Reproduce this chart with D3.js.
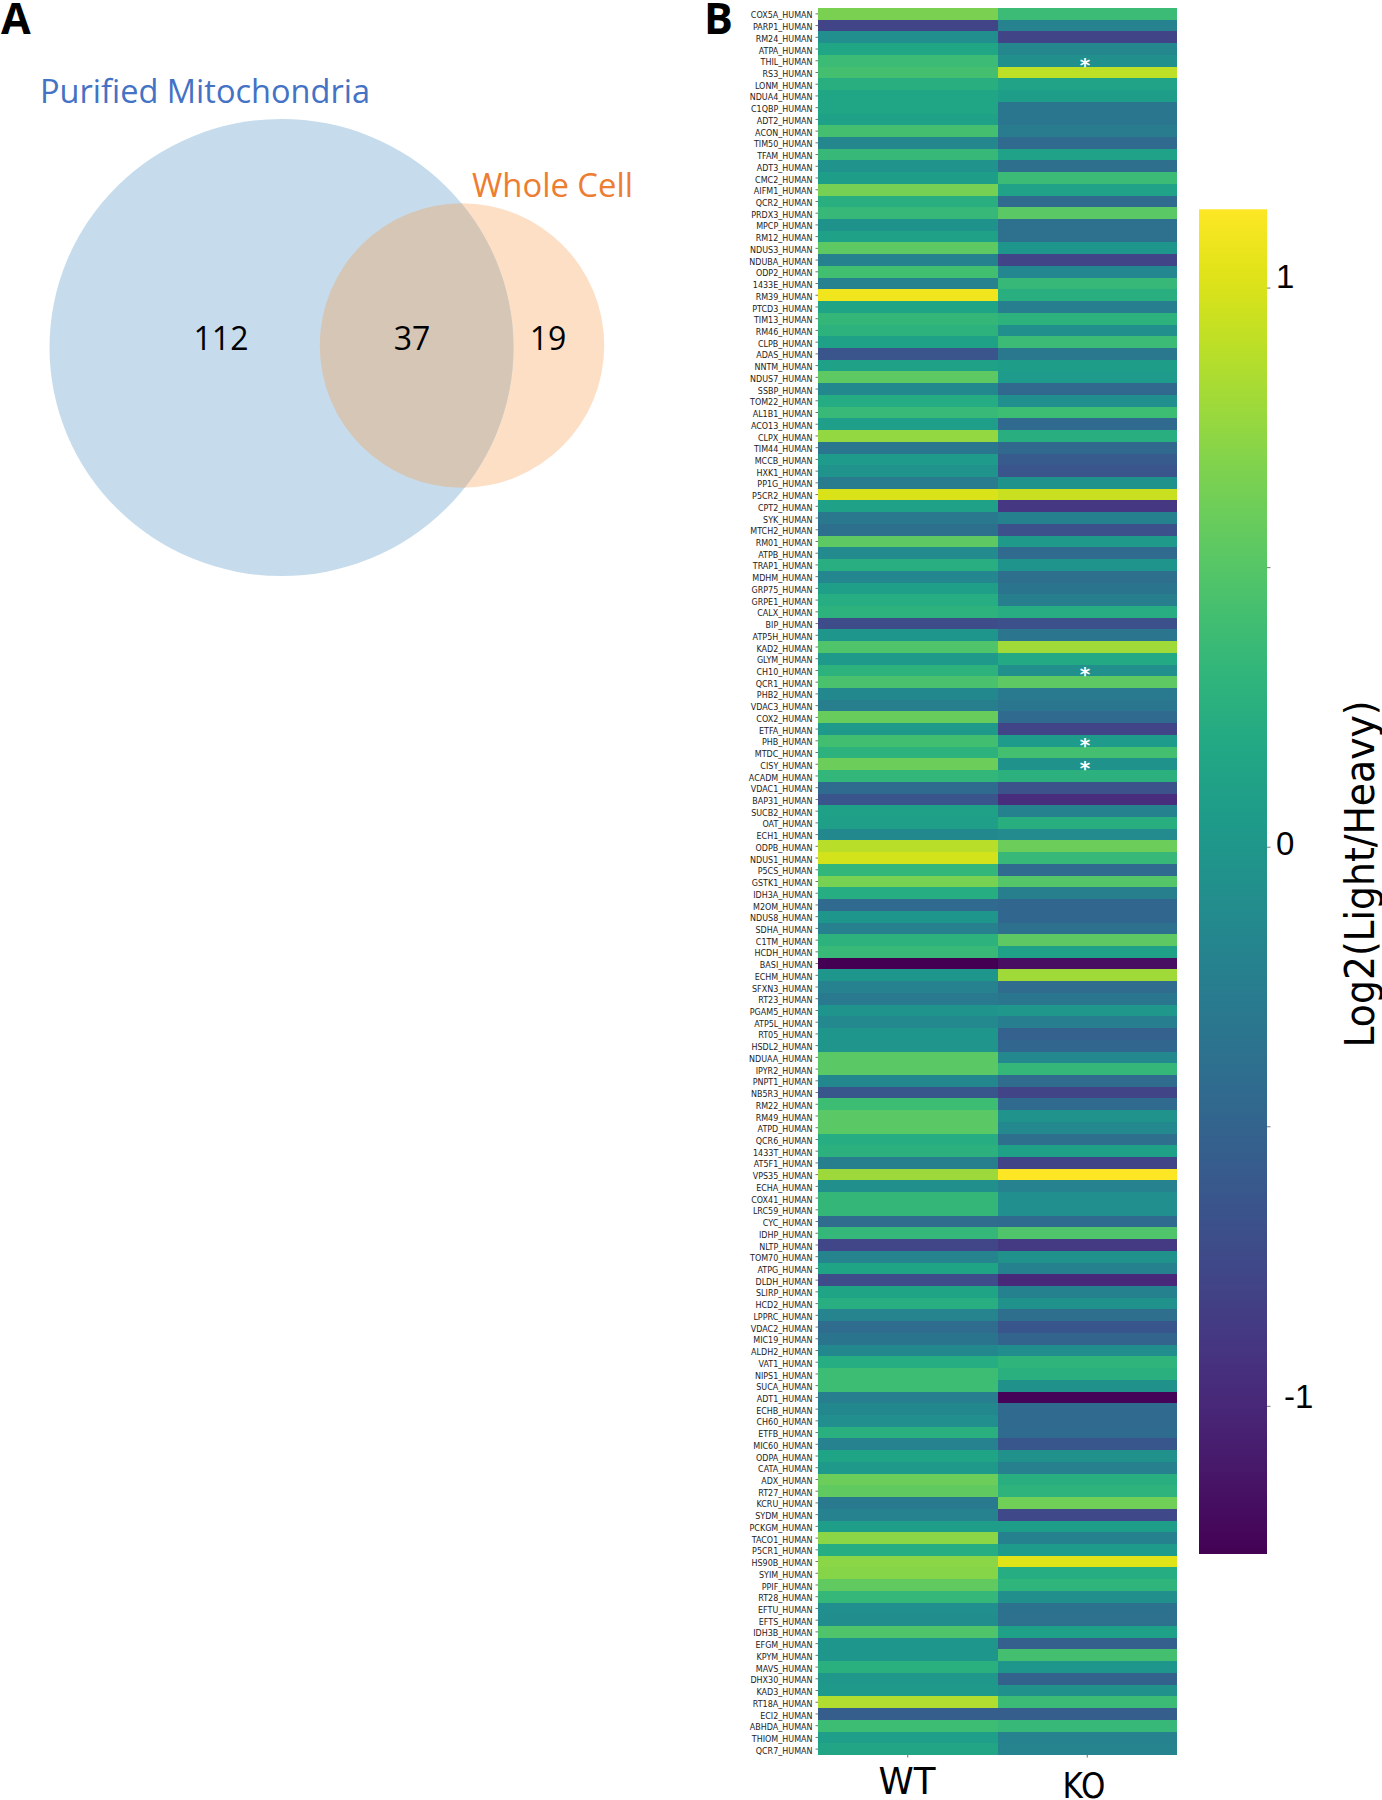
<!DOCTYPE html>
<html>
<head>
<meta charset="utf-8">
<script src="https://cdn.jsdelivr.net/npm/d3@7/dist/d3.min.js"></script>
<style>
  html, body { margin: 0; padding: 0; background: #fff; }
  svg { display: block; }
  .venn-text { font-family: "Open Sans", sans-serif; }
  .axis text { font-family: "DejaVu Sans", sans-serif; }
</style>
</head>
<body>
<div id="chart"></div>
<script>
const width = 1382;
const height = 1800;

// panel A
const vennSets = [
  { name: 'Purified Mitochondria', size: 149 },
  { name: 'Whole Cell', size: 56 }
];
const vennCounts = [112, 37, 19];

// panel B
const proteins = [
  'COX5A', 'PARP1', 'RM24', 'ATPA', 'THIL', 'RS3', 'LONM', 'NDUA4', 'C1QBP', 'ADT2',
  'ACON', 'TIM50', 'TFAM', 'ADT3', 'CMC2', 'AIFM1', 'QCR2', 'PRDX3', 'MPCP', 'RM12',
  'NDUS3', 'NDUBA', 'ODP2', '1433E', 'RM39', 'PTCD3', 'TIM13', 'RM46', 'CLPB', 'ADAS',
  'NNTM', 'NDUS7', 'SSBP', 'TOM22', 'AL1B1', 'ACO13', 'CLPX', 'TIM44', 'MCCB', 'HXK1',
  'PP1G', 'P5CR2', 'CPT2', 'SYK', 'MTCH2', 'RM01', 'ATPB', 'TRAP1', 'MDHM', 'GRP75',
  'GRPE1', 'CALX', 'BIP', 'ATP5H', 'KAD2', 'GLYM', 'CH10', 'QCR1', 'PHB2', 'VDAC3',
  'COX2', 'ETFA', 'PHB', 'MTDC', 'CISY', 'ACADM', 'VDAC1', 'BAP31', 'SUCB2', 'OAT',
  'ECH1', 'ODPB', 'NDUS1', 'P5CS', 'GSTK1', 'IDH3A', 'M2OM', 'NDUS8', 'SDHA', 'C1TM',
  'HCDH', 'BASI', 'ECHM', 'SFXN3', 'RT23', 'PGAM5', 'ATP5L', 'RT05', 'HSDL2', 'NDUAA',
  'IPYR2', 'PNPT1', 'NB5R3', 'RM22', 'RM49', 'ATPD', 'QCR6', '1433T', 'AT5F1', 'VPS35',
  'ECHA', 'COX41', 'LRC59', 'CYC', 'IDHP', 'NLTP', 'TOM70', 'ATPG', 'DLDH', 'SLIRP',
  'HCD2', 'LPPRC', 'VDAC2', 'MIC19', 'ALDH2', 'VAT1', 'NIPS1', 'SUCA', 'ADT1', 'ECHB',
  'CH60', 'ETFB', 'MIC60', 'ODPA', 'CATA', 'ADX', 'RT27', 'KCRU', 'SYDM', 'PCKGM',
  'TACO1', 'P5CR1', 'HS90B', 'SYIM', 'PPIF', 'RT28', 'EFTU', 'EFTS', 'IDH3B', 'EFGM',
  'KPYM', 'MAVS', 'DHX30', 'KAD3', 'RT18A', 'ECI2', 'ABHDA', 'THIOM', 'QCR7'
];

const wtValues = [
  0.66, -0.78, -0.08, 0.16, 0.37, 0.42, 0.25, 0.16, 0.16, 0.10,
  0.42, -0.15, 0.35, -0.03, 0.06, 0.64, 0.25, 0.35, -0.05, 0.10,
  0.54, -0.22, 0.41, -0.20, 1.09, 0.14, 0.33, 0.28, 0.10, -0.64,
  0.11, 0.54, -0.14, 0.21, 0.36, 0.07, 0.75, -0.32, 0.05, -0.03,
  -0.26, 1.00, 0.10, -0.30, -0.39, 0.54, -0.12, 0.24, -0.16, 0.08,
  0.22, 0.28, -0.72, 0.00, 0.48, 0.03, 0.28, 0.45, -0.14, -0.24,
  0.58, 0.04, 0.41, 0.28, 0.60, 0.32, -0.43, -0.64, 0.10, 0.08,
  -0.14, 0.88, 0.98, 0.32, 0.65, 0.22, -0.44, 0.00, -0.23, 0.28,
  0.36, -1.26, 0.00, -0.21, -0.28, -0.02, -0.13, 0.00, -0.01, 0.52,
  0.52, -0.14, -0.62, 0.38, 0.52, 0.52, 0.22, 0.27, -0.24, 0.79,
  -0.07, 0.33, 0.33, -0.42, 0.34, -0.76, -0.18, 0.14, -0.72, 0.14,
  0.24, -0.18, -0.42, -0.34, -0.14, 0.22, 0.38, 0.38, -0.25, -0.14,
  -0.08, 0.26, -0.20, 0.14, 0.04, 0.60, 0.55, -0.28, -0.20, 0.06,
  0.72, 0.22, 0.72, 0.70, 0.55, 0.34, -0.08, -0.10, 0.48, 0.00,
  0.00, 0.26, 0.02, 0.03, 0.85, -0.56, 0.38, 0.07, 0.15
];

const koValues = [
  0.37, -0.20, -0.78, -0.15, -0.07, 0.90, 0.13, 0.06, -0.32, -0.32,
  -0.26, -0.44, 0.12, -0.40, 0.37, 0.12, -0.44, 0.52, -0.38, -0.38,
  0.00, -0.78, -0.16, 0.35, 0.25, -0.25, 0.28, -0.07, 0.37, -0.30,
  0.06, 0.05, -0.46, -0.08, 0.38, -0.44, 0.25, -0.46, -0.58, -0.64,
  -0.05, 0.94, -0.88, -0.22, -0.68, 0.03, -0.44, -0.02, -0.40, -0.34,
  -0.24, 0.23, -0.68, -0.33, 0.80, 0.19, -0.07, 0.54, -0.28, -0.32,
  -0.44, -0.78, 0.05, 0.42, -0.04, 0.27, -0.66, -0.96, -0.22, 0.25,
  -0.12, 0.60, 0.35, -0.44, 0.50, -0.24, -0.48, -0.48, -0.38, 0.54,
  0.11, -1.18, 0.80, -0.42, -0.32, 0.02, -0.25, -0.53, -0.48, -0.13,
  0.34, -0.42, -0.78, -0.44, -0.03, -0.13, -0.40, 0.11, -0.78, 1.14,
  -0.20, -0.08, -0.08, -0.43, 0.48, -0.86, -0.06, -0.22, -1.00, -0.22,
  -0.06, -0.40, -0.62, -0.50, -0.10, 0.30, 0.26, -0.06, -1.24, -0.44,
  -0.44, -0.43, -0.62, -0.06, -0.23, 0.25, 0.29, 0.62, -0.74, 0.06,
  -0.22, 0.05, 1.02, 0.22, 0.30, -0.07, -0.36, -0.38, 0.10, -0.55,
  0.42, 0.00, -0.52, -0.06, 0.37, -0.56, 0.35, -0.20, -0.18
];

const conditions = ['WT', 'KO'];
const significant = ['THIL', 'CH10', 'PHB', 'CISY'];
const colorDomain = [-1.265, 1.14];
const colorTicks = [-1, -0.5, 0, 0.5, 1];

const svg = d3.select('#chart')
  .append('svg')
  .attr('width', width)
  .attr('height', height);

const color = d3.scaleSequential(d3.interpolateViridis).domain(colorDomain);

// ---- venn ----
const radius = d3.scaleSqrt().domain([0, 149]).range([0, 232]);
const bigSet = { x: 281.5, y: 347.5, rx: radius(vennSets[0].size), ry: radius(vennSets[0].size) * 0.985 };
const smallSet = { x: 462, y: 345.5, rx: radius(vennSets[1].size), ry: radius(vennSets[1].size) };

svg.append('clipPath')
  .attr('id', 'venn-clip')
  .append('ellipse')
  .attr('cx', smallSet.x)
  .attr('cy', smallSet.y)
  .attr('rx', smallSet.rx)
  .attr('ry', smallSet.ry);

svg.append('ellipse')
  .attr('cx', smallSet.x)
  .attr('cy', smallSet.y)
  .attr('rx', smallSet.rx)
  .attr('ry', smallSet.ry)
  .attr('fill', '#fddfc5');

svg.append('ellipse')
  .attr('cx', bigSet.x)
  .attr('cy', bigSet.y)
  .attr('rx', bigSet.rx)
  .attr('ry', bigSet.ry)
  .attr('fill', '#c6dcec');

svg.append('ellipse')
  .attr('cx', bigSet.x)
  .attr('cy', bigSet.y)
  .attr('rx', bigSet.rx)
  .attr('ry', bigSet.ry)
  .attr('clip-path', 'url(#venn-clip)')
  .attr('fill', '#d6c6b5');

svg.append('text')
  .attr('class', 'venn-text')
  .attr('x', 40)
  .attr('y', 102.5)
  .attr('textLength', 330)
  .attr('lengthAdjust', 'spacingAndGlyphs')
  .style('font-size', '32px')
  .style('fill', '#4472c4')
  .text(vennSets[0].name);

svg.append('text')
  .attr('class', 'venn-text')
  .attr('x', 472)
  .attr('y', 197)
  .attr('textLength', 161)
  .attr('lengthAdjust', 'spacingAndGlyphs')
  .style('font-size', '32px')
  .style('fill', '#ed7d31')
  .text(vennSets[1].name);

svg.selectAll('.venn-count')
  .data(vennCounts)
  .enter()
  .append('text')
  .attr('class', 'venn-text venn-count')
  .attr('x', (d, i) => [221, 412, 548][i])
  .attr('y', 350)
  .style('font-size', '32px')
  .style('fill', '#000')
  .style('text-anchor', 'middle')
  .text(d => d);

svg.selectAll('.panel-label')
  .data([{ t: 'A', x: 1, y: 34 }, { t: 'B', x: 704, y: 34 }])
  .enter()
  .append('text')
  .attr('class', 'panel-label')
  .attr('x', d => d.x)
  .attr('y', d => d.y)
  .style('font-family', '"Open Sans", sans-serif')
  .style('font-weight', 'bold')
  .style('font-size', '43px')
  .text(d => d.t);

// ---- heatmap ----
const x = d3.scaleBand().domain(conditions).range([818, 1177]);
const y = d3.scaleBand().domain(proteins).range([8, 1755]);

const cells = proteins.flatMap((p, i) => [
  { protein: p, condition: 'WT', value: wtValues[i] },
  { protein: p, condition: 'KO', value: koValues[i] }
]);

svg.selectAll('.cell')
  .data(cells)
  .enter()
  .append('rect')
  .attr('class', 'cell')
  .attr('x', d => x(d.condition))
  .attr('y', d => y(d.protein))
  .attr('width', x.bandwidth())
  .attr('height', y.bandwidth())
  .attr('shape-rendering', 'crispEdges')
  .attr('fill', d => color(d.value));

const yAxis = svg.append('g')
  .attr('class', 'axis')
  .attr('transform', 'translate(818,0)')
  .call(d3.axisLeft(y).tickSize(2.5).tickPadding(3).tickFormat(d => d + '_HUMAN'));
yAxis.select('.domain').remove();
yAxis.selectAll('text')
  .attr('y', 2)
  .style('font-size', '8px')
  .style('fill', '#222');
yAxis.selectAll('line').attr('stroke', '#333').attr('stroke-width', 0.7);

const xAxis = svg.append('g')
  .attr('class', 'axis')
  .attr('transform', 'translate(0,1755)')
  .call(d3.axisBottom(x).tickSize(2.5).tickFormat(''));
xAxis.select('.domain').remove();
xAxis.selectAll('line').attr('stroke', '#333').attr('stroke-width', 0.7);

svg.selectAll('.condition-label')
  .data(conditions)
  .enter()
  .append('text')
  .attr('class', 'condition-label')
  .attr('x', d => (d === 'WT' ? 907 : 1084))
  .attr('y', d => (d === 'WT' ? 1794 : 1798))
  .attr('textLength', d => (d === 'WT' ? 57 : 43))
  .attr('lengthAdjust', 'spacingAndGlyphs')
  .style('font-family', '"DejaVu Sans", sans-serif')
  .style('font-size', d => (d === 'WT' ? '38px' : '36px'))
  .style('text-anchor', 'middle')
  .text(d => d);

svg.selectAll('.star')
  .data(significant)
  .enter()
  .append('text')
  .attr('class', 'star')
  .attr('x', 1085)
  .attr('y', d => y(d) + y.bandwidth() / 2 + 11)
  .style('font-family', '"DejaVu Sans", sans-serif')
  .style('font-weight', 'bold')
  .style('font-size', '20px')
  .style('fill', '#fff')
  .style('text-anchor', 'middle')
  .text('*');

// ---- colorbar ----
const barScale = d3.scaleLinear().domain(colorDomain).range([1554, 209.3]);
const defs = svg.append('defs');
const grad = defs.append('linearGradient')
  .attr('id', 'viridis-grad')
  .attr('x1', 0).attr('x2', 0).attr('y1', 1).attr('y2', 0);
grad.selectAll('stop')
  .data(d3.range(0, 1.001, 0.05))
  .enter()
  .append('stop')
  .attr('offset', d => d)
  .attr('stop-color', d => d3.interpolateViridis(d));

svg.append('rect')
  .attr('x', 1199)
  .attr('y', barScale(colorDomain[1]))
  .attr('width', 68)
  .attr('height', barScale(colorDomain[0]) - barScale(colorDomain[1]))
  .attr('fill', 'url(#viridis-grad)');

const barAxis = svg.append('g')
  .attr('class', 'axis')
  .attr('transform', 'translate(1267,0)')
  .call(d3.axisRight(barScale)
    .tickValues(colorTicks)
    .tickSize(3.5)
    .tickFormat(d => (Number.isInteger(d) ? (d < 0 ? '-' : '') + Math.abs(d) : '')));
barAxis.select('.domain').remove();
barAxis.selectAll('line').attr('stroke', '#555').attr('stroke-width', 0.8);
barAxis.selectAll('text')
  .attr('x', d => (d < 0 ? 17 : 9))
  .attr('dy', d => (d > 0 ? 0 : d < 0 ? 2 : 8))
  .style('font-family', '"Liberation Sans", sans-serif')
  .style('font-size', '33px')
  .style('fill', '#000');

svg.append('text')
  .attr('transform', 'translate(1374,874) rotate(-90)')
  .attr('textLength', 347)
  .attr('lengthAdjust', 'spacingAndGlyphs')
  .style('font-family', '"DejaVu Sans", sans-serif')
  .style('font-size', '41px')
  .style('text-anchor', 'middle')
  .text('Log2(Light/Heavy)');
</script>
</body>
</html>
